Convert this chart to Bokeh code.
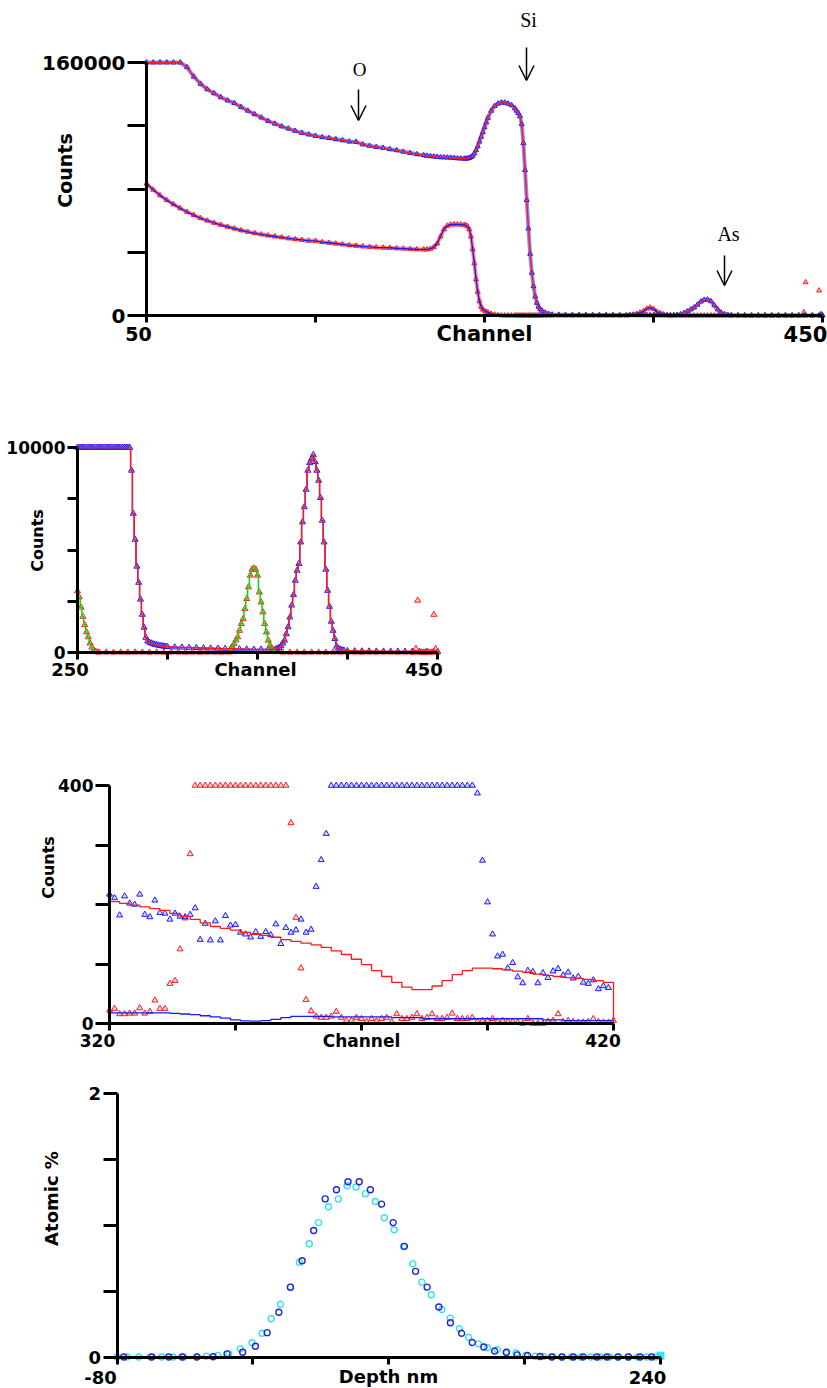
import math
from bokeh.plotting import figure
from bokeh.models import (Label, Arrow, OpenHead, FixedTicker, Range1d, LinearAxis,
                          CustomJSTickFormatter)
from bokeh.embed import file_html
from bokeh.resources import INLINE

# ======================= DATA =======================
# ---- Panel 1: full spectra (channel vs counts, counts in thousands) ----
p1_channel = (list(range(50, 215, 4)) + list(range(216, 239, 2)) + list(range(239, 253))
              + list(range(254, 269, 2)) + list(range(269, 285)) + [286, 288, 290]
              + list(range(294, 335, 4)) + list(range(336, 397, 2))
              + list(range(400, 437, 4)) + [439, 440, 444, 448, 449, 450])
p1_upper_k = [
    160, 160, 160, 160, 160, 160, 157, 151, 146.5, 143, 140.5, 138, 136, 134.3, 131.8,
    129.5, 127.3, 125.2, 123, 121.3, 119.6, 118.2, 116.8, 115.5, 114.5, 113.6, 112.8,
    112.2, 111.5, 110.8, 110, 109.8, 108.2, 107.3, 106.6, 106, 105.2, 104.5, 103.6, 102.8,
    102, 101.4,
    101, 100.8, 100.5, 100.3, 100.1, 100, 99.9, 99.8, 99.6, 99.4, 99.3, 99.2,
    99.2, 99.3, 99.6, 100.2, 101, 102.5, 104.5, 107, 110, 113, 116, 119, 122, 125,
    129.5, 132.5, 134, 134.7, 134.6, 134, 133, 131,
    129.5, 128, 126, 121, 109, 92, 73, 55, 39, 27, 18.5, 12, 8, 5.5, 4, 3,
    1.8, 1.0, 0.6,
    0.45, 0.4, 0.38, 0.36, 0.34, 0.32, 0.3, 0.28, 0.27, 0.26, 0.25,
    0.24, 0.23, 0.22, 0.21, 0.2, 0.19, 0.18, 0.17, 0.16, 0.15, 0.15, 0.15, 0.16, 0.22, 0.4,
    0.7, 1.5, 2.6, 3.8, 5.0, 6.8, 8.8, 9.9, 10.1, 9.0, 6.4, 3.8, 1.8, 0.85, 0.3, 0.12,
    0.08, 0.07, 0.07, 0.07, 0.07, 0.06, 0.06, 0.06, 0.06, 0.06,
    0.06, 0.06, 0.06, 0.06, 0.06, 0.06,
]
p1_lower_k = [
    83.4, 79.5, 76, 73, 70.3, 67.8, 65.5, 63.5, 61.6, 60, 58.6, 57.3, 56.1, 55, 53.9,
    52.9, 52.1, 51.3, 50.6, 50, 49.4, 48.8, 48.3, 47.8, 47.3, 47.2, 46.4, 46, 45.5, 45,
    44.5, 44.1, 43.7, 43.4, 43.1, 42.9, 42.8, 42.5, 42.3, 42.1, 41.9, 41.8,
    41.8, 42.2, 43.2, 45.5, 50, 54.5, 56.8, 57.5, 57.6, 57.6, 57.5, 57.3,
    57, 56.3, 54.5, 50, 42, 33, 23, 15, 9, 5.5, 3.8, 3, 2.4, 1.9,
    1.1, 0.6, 0.25, 0.1, 0.05, 0.04, 0.03, 0.03,
    0.02, 0.02, 0.02, 0.02, 0.02, 0.02, 0.02, 0.02, 0.02, 0.02, 0.02, 0.02, 0.02, 0.02, 0.02, 0.02,
    0.02, 0.02, 0.02,
    0.02, 0.02, 0.02, 0.02, 0.02, 0.02, 0.02, 0.02, 0.02, 0.02, 0.02,
    0.3, 0.6, 1.07, 1.8, 2.6, 4.3, 5.0, 4.2, 2.3, 1.55, 0.7, 0.2, 0.04,
    0.015, 0.015, 0.015, 0.015, 0.015, 0.015, 0.015, 0.015, 0.015,
    0.015, 0.015, 0.015, 0.015, 0.015, 0.015, 0.015, 0.015, 0.015,
    0.01, 0.01, 0.01, 0.01, 0.01, 0.01, 0.01, 0.01, 0.01, 0.01,
    2.0, 21, 0.01, 15.8, 1.0, 0.01,
]
p1_yticks = [0, 40000, 80000, 120000, 160000]
p1_xticks = [50, 150, 250, 350, 450]

# ---- Panel 2: zoom 250-450, counts clipped at 10000 ----
p2_blue_channel = (list(range(250, 301)) + list(range(304, 361, 4))
                   + list(range(361, 399)) + list(range(400, 449, 4)) + [450])
p2_blue = [
    10000, 10000, 10000, 10000, 10000, 10000, 10000, 10000, 10000, 10000,
    10000, 10000, 10000, 10000, 10000, 10000, 10000, 10000, 10000, 10000,
    10000, 10000, 10000, 10000, 10000, 10000, 10000, 10000, 10000,
    10000, 8880, 6780, 5510, 4200, 3410, 2590, 1850, 1220, 730, 560, 490, 450, 420, 390,
    370, 350, 330, 315, 300, 290, 280,
    260, 250, 240, 230, 215, 205, 195, 185, 180, 165, 160, 150, 150, 150, 160,
    200, 230, 320, 450, 590, 900, 1240, 1720, 2300, 2810,
    3510, 4000, 4330, 5380, 6360, 7100, 7950, 8880, 9250, 9450,
    9640, 9300, 8880, 8390, 7550, 6440, 5380, 4050, 3020, 2240,
    1510, 1070, 670, 300, 200, 150, 120, 100,
    80, 70, 65, 60, 55, 55, 50, 50, 50, 50, 50, 50, 50, 50,
]
p2_red_channel = (list(range(250, 263)) + list(range(266, 335, 4)) + list(range(335, 361))
                  + list(range(364, 437, 4)) + list(range(437, 451)))
p2_red = [
    3000, 2700, 2200, 1750, 1350, 1000, 750, 450, 250, 100, 40, 20, 10,
    10, 5, 10, 5, 10, 10, 5, 10, 5, 10, 10, 5, 10, 5, 10, 10, 5, 10,
    180, 290, 420, 600, 750, 1070, 1400, 1640, 2130, 2620, 3190, 3760, 4050, 4110,
    4050, 3760, 2940, 2450, 1970, 1400, 990, 590, 340, 200, 80, 30,
    10, 5, 10, 5, 10, 10, 5, 10, 5, 10, 10, 5, 10, 5, 10, 10, 5, 10, 5,
    10, 180, 2540, 10, 10, 10, 10, 10, 10, 10, 10, 1850, 180, 10,
]
p2_fit_len = 76  # green fit drawn over channels 250-436
p2_yticks = [0, 2500, 5000, 7500, 10000]
p2_xticks = [250, 300, 350, 400, 450]

# ---- Panel 3: zoom 320-420, counts clipped at 400 ----
p3_red_channel = list(range(320, 421))
p3_red = [
    22, 25, 16, 16, 17, 17, 26, 17, 20, 39,
    25, 25, 67, 72, 125, 177, 285, 400, 400, 400,
    400, 400, 400, 400, 400, 400, 400, 400, 400, 400,
    400, 400, 400, 400, 400, 400, 337, 178, 93, 40,
    21, 12, 10, 10, 12, 20, 10, 5, 5, 10,
    8, 3, 8, 4, 8, 10, 3, 16, 8, 8,
    10, 16, 8, 10, 16, 8, 8, 10, 17, 8,
    8, 8, 10, 3, 5, 5, 8, 3, 5, 3,
    3, 2, 0, 8, 0, 0, 0, 3, 5, 16,
    3, 5, 3, 2, 2, 3, 8, 3, 2, 2,
    5,
]
p3_blue_channel = list(range(320, 420))
p3_blue = [
    217, 211, 182, 214, 202, 200, 217, 183, 179, 207,
    186, 185, 175, 185, 180, 179, 183, 194, 141, 168,
    140, 172, 140, 181, 165, 166, 153, 150, 145, 154,
    146, 154, 149, 167, 134, 161, 153, 157, 175, 153,
    158, 230, 275, 319, 400, 400, 400, 400, 400, 400,
    400, 400, 400, 400, 400, 400, 400, 400, 400, 400,
    400, 400, 400, 400, 400, 400, 400, 400, 400, 400,
    400, 400, 400, 387, 274, 204, 150, 113, 116, 93,
    102, 78, 68, 89, 87, 68, 85, 77, 88, 92,
    81, 86, 76, 79, 69, 67, 73, 58, 63, 60,
]
p3_rfit_channel = list(range(320, 421, 2)) + [420]
p3_rfit = [
    205, 202, 199, 196, 193, 190, 185, 180, 175, 169,
    163, 160, 157, 153, 150, 148, 145, 141, 138, 135,
    132, 128, 122, 116, 108, 99, 89, 79, 69, 61,
    57, 57, 63, 72, 82, 89, 93, 93, 92, 90,
    88, 86, 83, 81, 79, 77, 76, 74, 72, 69,
    67, 0,
]
p3_bfit_channel = [320, 324, 328, 332, 334, 336, 338, 340, 342, 344, 346, 348, 350, 352, 354,
                   356, 360, 364, 368, 372, 376, 380, 382, 386, 390, 394, 398, 402, 406, 410,
                   414, 418, 420]
p3_bfit = [18, 18, 18, 17, 16, 15, 13, 11, 9, 6, 4.5, 4, 5, 7, 10,
           12, 12, 11, 11, 11, 10, 10, 8, 8, 8, 8, 8, 8, 6, 5,
           5, 5, 5]
p3_yticks = [0, 100, 200, 300, 400]
p3_xticks = [320, 345, 370, 395, 420]

# ---- Panel 4: depth profile (atomic %) ----
p4_depth_a = [-76, -59.5, -49.5, -41.6, -32.8, -23.4, -15.2, -6, 1.5, 8.4,
              15.3, 22.1, 29, 35.8, 42.6, 49.2, 56, 62.6, 69.2, 75.8,
              82.6, 89.2, 95.8, 102.6, 109.5, 116.3, 122.9, 129.2, 136, 142.4,
              149.2, 155.6, 161.8, 169.1, 176, 182, 188.7, 194.6, 202.5, 208.4,
              215, 221.1, 228, 234.8]
p4_atomic_a = [0, 0, 0, 0, 0, 0.002, 0.024, 0.036, 0.082, 0.185,
               0.34, 0.53, 0.73, 0.96, 1.20, 1.27, 1.33, 1.33, 1.27, 1.16,
               1.02, 0.84, 0.65, 0.53, 0.38, 0.26, 0.18, 0.11, 0.076, 0.045,
               0.034, 0.016, 0.011, 0.004, 0, 0, 0, 0, 0, 0,
               0, 0, 0, 0]
p4_depth_b = [-80, -74, -67.2, -60.3, -53.8, -46.9, -40.7, -33.2, -27.3, -20.5,
              -14.2, -7.4, -0.5, 5.4, 10.8, 16.3, 22.1, 27.4, 33.2, 38.7,
              44.5, 50.3, 55.5, 60.8, 66.3, 72.1, 77.4, 83.2, 88.7, 94.2,
              99.5, 105, 111.3, 116.2, 121.6, 127, 132.8, 138.1, 144, 149.5,
              155, 160.7, 166.2, 171, 176.5, 181.9, 187.5, 193, 199, 204.5,
              210, 215.2, 221, 226.5, 231.9, 237]
p4_atomic_b = [0, 0, 0, 0, 0, 0, 0, 0, 0.006, 0.011,
               0.024, 0.062, 0.108, 0.18, 0.29, 0.40, 0.53, 0.72, 0.86, 1.02,
               1.14, 1.20, 1.30, 1.29, 1.24, 1.18, 1.057, 0.966, 0.839, 0.707,
               0.568, 0.472, 0.36, 0.295, 0.214, 0.15, 0.10, 0.07, 0.055, 0.04,
               0.03, 0.011, 0.006, 0.003, 0.002, 0, 0, 0, 0, 0,
               0, 0, 0, 0, 0, 0]
p4_end_depth = [240]
p4_end_atomic = [0.01]
p4_yticks = [0, 0.5, 1, 1.5, 2]
p4_xticks = [-80, 0, 80, 160, 240]

# ======================= STYLE / LAYOUT =======================
W, H = 827, 1388
BLUE = "#1a1aff"
RED = "#ff1a1a"
GREEN = "#00dd00"
NAVY = "#2626d4"
CYAN = "#36e2f0"
SANS = "DejaVu Sans"
SERIF = "Liberation Serif"

# one canvas; default ranges are page pixels (y measured up from the bottom)
p = figure(width=W, height=H, output_backend="svg", toolbar_location=None,
           x_range=Range1d(0, W), y_range=Range1d(0, H),
           x_axis_location=None, y_axis_location=None, min_border=0)
p.title.visible = False
p.outline_line_color = None
p.background_fill_color = "white"
p.border_fill_color = "white"
for g in p.grid:
    g.visible = False

# panel geometry: (x0, x1, page_px0, page_px1, y0, y1, page_py0, page_py1)
GEO = {
    "a": (50, 450, 146, 822, 0, 160000, 315, 62),
    "b": (250, 450, 77, 437, 0, 10000, 652, 447),
    "c": (320, 420, 109, 613, 0, 400, 1023, 785),
    "d": (-80, 240, 116.5, 660, 0, 2, 1356.5, 1093),
}
xr, yr = {}, {}
for name, (x0, x1, px0, px1, y0, y1, py0, py1) in GEO.items():
    sx = (x1 - x0) / (px1 - px0)
    sy = (y1 - y0) / (py1 - py0)
    xr[name] = Range1d(x0 + (0 - px0) * sx, x0 + (W - px0) * sx)
    yr[name] = Range1d(y0 + (H - py0) * sy, y0 + (0 - py0) * sy)
p.extra_x_ranges = xr
p.extra_y_ranges = yr


def axes(name, xticks, yticks, ylabels, yfs, ytick_len):
    x0, x1, _, _, y0, y1, _, _ = GEO[name]
    xa = LinearAxis(x_range_name=name, y_range_name=name, fixed_location=y0)
    ya = LinearAxis(x_range_name=name, y_range_name=name, fixed_location=x0)
    for a in (xa, ya):
        a.axis_line_width = 3
        a.axis_line_color = "black"
        a.major_tick_line_width = 3
        a.major_tick_line_color = "black"
        a.major_tick_in = 0
        a.minor_tick_line_color = None
        a.major_label_text_font = SANS
        a.major_label_text_font_style = "bold"
        a.major_label_text_color = "black"
    xa.ticker = FixedTicker(ticks=xticks)
    xa.bounds = (x0, x1)
    xa.major_tick_out = 7
    xa.formatter = CustomJSTickFormatter(code="return '';")
    xa.major_label_text_font_size = "2px"
    ya.ticker = FixedTicker(ticks=yticks)
    ya.bounds = (y0, y1)
    ya.major_tick_out = ytick_len
    ya.formatter = CustomJSTickFormatter(
        args=dict(vals=[yticks[0], yticks[-1]], labs=ylabels),
        code="for (let i = 0; i < vals.length; i++) { if (Math.abs(tick - vals[i]) < 1e-9 * (1 + Math.abs(vals[i]))) return labs[i]; } return '';")
    ya.major_label_text_font_size = f"{yfs}px"
    ya.major_label_standoff = 2
    p.add_layout(xa, "below")
    p.add_layout(ya, "left")


def lab(text, px, py, size, angle=0.0, serif=False):
    p.add_layout(Label(x=px, y=H - py, text=text,
                       text_font=SERIF if serif else SANS,
                       text_font_style="normal" if serif else "bold",
                       text_font_size=f"{size}px", text_color="black",
                       text_align="center", text_baseline="middle", angle=angle))


def arrow(px, py_from, py_to):
    p.add_layout(Arrow(end=OpenHead(size=15, line_width=1.5, line_color="black"),
                       x_start=px, y_start=H - py_from, x_end=px, y_end=H - py_to,
                       line_width=1.5, line_color="black"))


# ======================= PANEL 1 =======================
axes("a", p1_xticks, p1_yticks, ["0", "160000"], 20, 19)
up = [v * 1000 for v in p1_upper_k]
lo = [v * 1000 for v in p1_lower_k]
nfit = len(p1_channel) - 6
kw = dict(x_range_name="a", y_range_name="a")
p.line(p1_channel[:nfit], lo[:nfit], line_color=RED, line_width=4, line_alpha=0.5, **kw)
p.scatter(p1_channel, lo, marker="triangle", size=5, line_color=RED, fill_color="#ff9090",
          fill_alpha=0.6, line_width=1, **kw)
p.line(p1_channel[:nfit], lo[:nfit], line_color=BLUE, line_width=1.4, **kw)
p.line(p1_channel, up, line_color=BLUE, line_width=4, line_alpha=0.5, **kw)
p.scatter(p1_channel, up, marker="triangle", size=5, line_color=BLUE, fill_color="#9090ff",
          fill_alpha=0.6, line_width=1, **kw)
p.line(p1_channel, up, line_color=RED, line_width=1.4, **kw)
lab("Counts", 64, 170, 19, angle=math.pi / 2)
lab("50", 138, 333, 19)
lab("450", 805, 333, 21)
lab("Channel", 484, 333, 21)
lab("O", 359, 69, 19, serif=True)
lab("Si", 528, 19, 20, serif=True)
lab("As", 728, 233, 20, serif=True)
arrow(358, 89, 120)
arrow(526, 47, 80)
arrow(724, 255, 285)

# ======================= PANEL 2 =======================
axes("b", p2_xticks, p2_yticks, ["0", "10000"], 17, 10)
kw = dict(x_range_name="b", y_range_name="b")
p.step(p2_blue_channel, p2_blue, mode="center", line_color=BLUE, line_width=1.3, **kw)
p.scatter(p2_blue_channel, p2_blue, marker="triangle", size=6, line_color=BLUE,
          fill_color="#a0a0ff", fill_alpha=0.5, line_width=1, **kw)
p.scatter(p2_red_channel, p2_red, marker="triangle", size=6, line_color=RED,
          fill_color="#ffa0a0", fill_alpha=0.5, line_width=1, **kw)
p.step(p2_red_channel[:p2_fit_len], p2_red[:p2_fit_len], mode="center",
       line_color=GREEN, line_width=1.5, **kw)
p.step(p2_blue_channel, p2_blue, mode="center", line_color=RED, line_width=1.5, **kw)
lab("Counts", 37, 540, 16, angle=math.pi / 2)
lab("250", 69.5, 669, 18)
lab("450", 423.5, 669, 18)
lab("Channel", 255, 669, 18)

# ======================= PANEL 3 =======================
axes("c", p3_xticks, p3_yticks, ["0", "400"], 17, 14)
kw = dict(x_range_name="c", y_range_name="c")
p.scatter(p3_red_channel, p3_red, marker="triangle", size=6, line_color=RED,
          fill_color="#ffb0b0", fill_alpha=0.5, line_width=1, **kw)
p.scatter(p3_blue_channel, p3_blue, marker="triangle", size=6, line_color=BLUE,
          fill_color="#b0b0ff", fill_alpha=0.5, line_width=1, **kw)
p.step(p3_rfit_channel, p3_rfit, mode="after", line_color=RED, line_width=1.3, **kw)
p.step(p3_bfit_channel, p3_bfit, mode="after", line_color=BLUE, line_width=1.3, **kw)
lab("Counts", 48, 867, 16, angle=math.pi / 2)
lab("320", 97, 1040, 17)
lab("420", 602.5, 1040, 17)
lab("Channel", 361, 1040.5, 17)

# ======================= PANEL 4 =======================
axes("d", p4_xticks, p4_yticks, ["0", "2"], 18, 14)
kw = dict(x_range_name="d", y_range_name="d")
p.scatter(p4_depth_b, p4_atomic_b, marker="circle", size=6, fill_color=None,
          line_color=CYAN, line_width=1.4, **kw)
p.scatter(p4_depth_a, p4_atomic_a, marker="circle", size=6, fill_color=None,
          line_color=NAVY, line_width=1.4, **kw)
p.scatter(p4_end_depth, p4_end_atomic, marker="square", size=7, color=CYAN, **kw)
lab("Atomic %", 51, 1198, 18, angle=math.pi / 2)
lab("-80", 100, 1377, 18)
lab("240", 647, 1377, 18)
lab("Depth nm", 388, 1375.5, 18)

open("out.html", "w").write(file_html(p, INLINE))
